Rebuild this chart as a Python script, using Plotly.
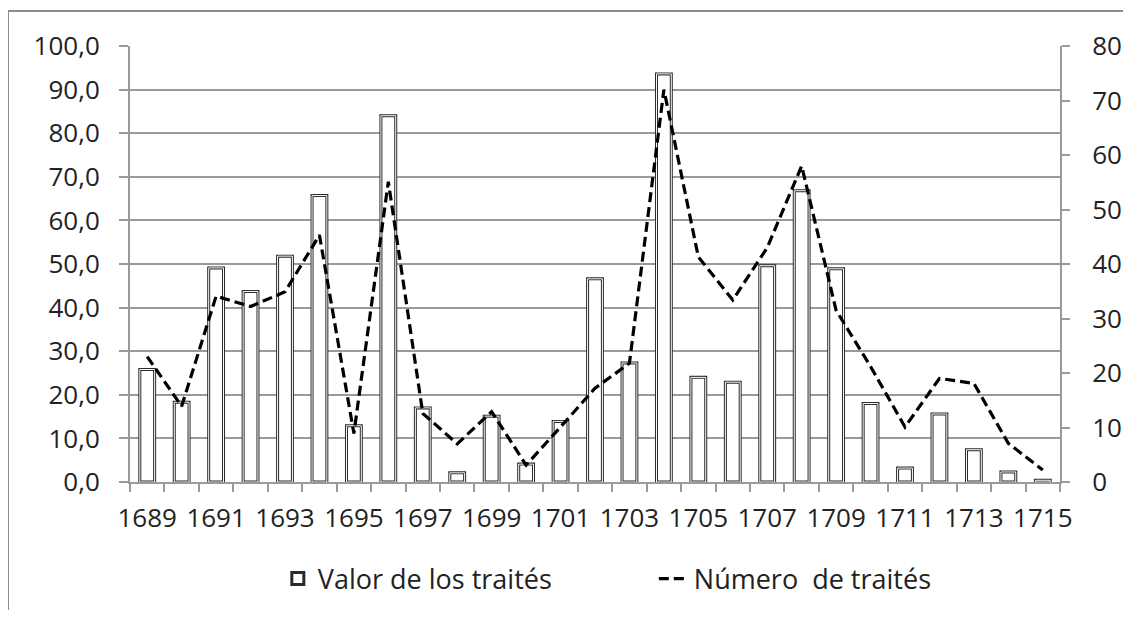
import plotly.graph_objects as go

years = list(range(1689, 1716))
valor = [25.8, 18.3, 49.1, 43.7, 51.8, 65.7, 12.9, 84.0, 17.0, 2.1, 15.1, 4.1, 13.9,
         46.6, 27.3, 93.6, 24.0, 22.9, 49.6, 66.8, 48.9, 18.0, 3.2, 15.6, 7.4, 2.3, 0.4]
numero = [23.0, 13.9, 34.1, 32.2, 34.9, 45.3, 8.9, 55.1, 12.6, 7.0, 12.9, 3.1, 10.1,
          17.2, 21.8, 72.0, 41.3, 33.4, 43.0, 58.0, 31.5, 21.2, 10.1, 19.0, 18.1, 7.1, 2.2]
tick_years = years[::2]
tick_labels = [str(y) for y in tick_years]

GRID = "#9a9a9a"
TXT = "#222222"
TICKFONT = dict(family="Open Sans", size=26, color=TXT)

fig = go.Figure()
fig.add_trace(go.Bar(
    x=years, y=valor, width=0.43, name="Valor de los traités",
    marker=dict(color="white", line=dict(color="#2a2a2a", width=3)),
    yaxis="y",
))
fig.add_trace(go.Bar(
    x=years, y=valor, width=0.43, showlegend=False, hoverinfo="skip",
    marker=dict(color="rgba(255,255,255,0)", line=dict(color="white", width=1)),
    yaxis="y",
))
fig.add_trace(go.Scatter(
    x=years, y=numero, mode="lines", name="Número  de traités",
    line=dict(color="black", width=3.2, dash="10px,5px"),
    yaxis="y2",
))

fig.update_layout(
    width=1115, height=602,
    margin=dict(l=122, r=63, t=38, b=128, autoexpand=False),
    paper_bgcolor="white", plot_bgcolor="white",
    barmode="overlay",
    separators=", ",
    showlegend=True,
    legend=dict(orientation="h", xref="container", yref="container",
                x=0.242, xanchor="left", y=0.0515, yanchor="middle",
                entrywidth=331, entrywidthmode="pixels",
                font=dict(family="Open Sans", size=27, color=TXT), itemwidth=30,
                traceorder="normal"),
    xaxis=dict(
        range=[1688.5, 1715.5], tickmode="array", tickvals=tick_years, ticktext=tick_labels,
        ticks="", showgrid=False, zeroline=False, automargin=False,
        showline=True, linecolor=GRID, linewidth=2,
        tickfont=TICKFONT, ticklabelstandoff=12,
        minor=dict(ticks="outside", tick0=1688.5, dtick=1, ticklen=8, tickwidth=2,
                   tickcolor=GRID, showgrid=False),
    ),
    yaxis=dict(
        range=[0, 100], dtick=10, tick0=0, tickformat=".1f",
        ticks="outside", ticklen=9, tickwidth=2, tickcolor=GRID,
        showgrid=True, gridcolor=GRID, gridwidth=2, zeroline=False, automargin=False,
        showline=True, linecolor=GRID, linewidth=2,
        tickfont=TICKFONT, ticklabelstandoff=14,
    ),
    yaxis2=dict(
        range=[0, 80], dtick=10, tick0=0, overlaying="y", side="right",
        ticks="outside", ticklen=8, tickwidth=2, tickcolor=GRID,
        showgrid=False, zeroline=False, automargin=False,
        showline=True, linecolor=GRID, linewidth=2,
        tickfont=TICKFONT, ticklabelstandoff=17,
    ),
    shapes=[dict(type="rect", xref="paper", yref="paper",
                 x0=-0.1312, x1=1.2, y0=-0.5, y1=1.0803,
                 line=dict(color="#8c8c8c", width=2), fillcolor="rgba(0,0,0,0)",
                 layer="below")],
)

fig.write_html("out.html")
